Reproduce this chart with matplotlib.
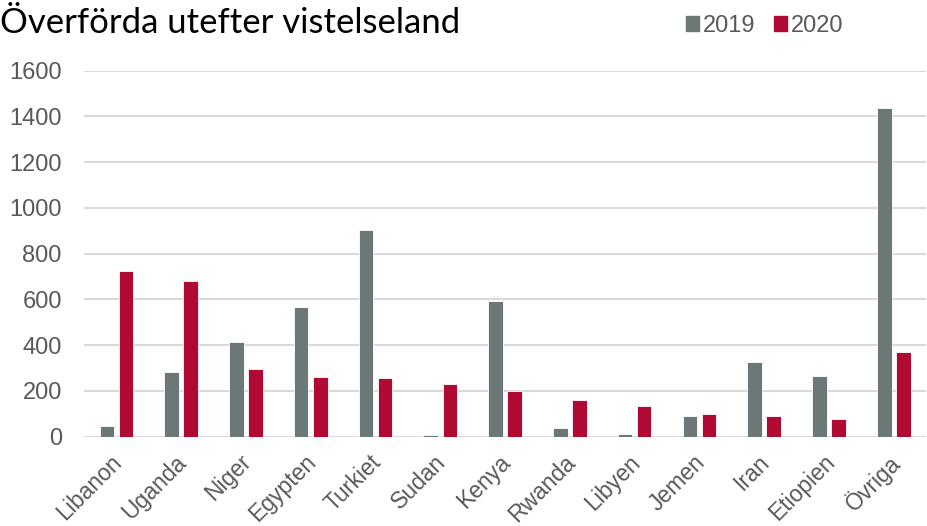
import numpy as np
import matplotlib.pyplot as plt
import matplotlib.transforms as mtransforms
from matplotlib.patches import Patch

countries = ["Libanon", "Uganda", "Niger", "Egypten", "Turkiet", "Sudan", "Kenya",
             "Rwanda", "Libyen", "Jemen", "Iran", "Etiopien", "Övriga"]
y2019 = [48, 281, 415, 565, 905, 7, 595, 38, 12, 89, 326, 265, 1437]
y2020 = [723, 680, 294, 262, 256, 229, 201, 159, 136, 98, 92, 76, 369]
yticks = [0, 200, 400, 600, 800, 1000, 1200, 1400, 1600]

grey = "#6b7877"
red = "#b00a32"
txt = "#595959"

plt.rcParams["font.family"] = ["Liberation Sans", "DejaVu Sans"]

fig = plt.figure(figsize=(9.28, 5.26), dpi=100)
ax = fig.add_axes([0.0905, 0.1698, 0.9075, 0.6958])

x = np.arange(len(countries))
w = 0.225
off = 0.147
ax.bar(x - off, y2019, w, color=grey, edgecolor="white", linewidth=0.6, zorder=3)
ax.bar(x + off, y2020, w, color=red, edgecolor="white", linewidth=0.6, zorder=3)

ax.set_xlim(-0.5, len(countries) - 0.5)
ax.set_ylim(0, 1600)
ax.set_yticks(yticks)
ax.set_yticklabels([str(v) for v in yticks], fontsize=17, color=txt)
ax.tick_params(axis="y", length=0, pad=16)
ax.tick_params(axis="x", length=0, pad=10)
ax.set_xticks(x)
ax.set_xticklabels(countries, rotation=45, ha="right", rotation_mode="anchor",
                   fontsize=16.5, color=txt)
# nudge the rotated labels a little to the left
shift = mtransforms.ScaledTranslation(-6 / 100, 0, fig.dpi_scale_trans)
for lbl in ax.get_xticklabels():
    lbl.set_transform(lbl.get_transform() + shift)

ax.grid(True, axis="y", color="#d9d9d9", linewidth=1.5, zorder=0)
for s in ax.spines.values():
    s.set_visible(False)

fig.text(0.0, 0.937, "Överförda utefter vistelseland", fontsize=25,
         family=["Lato", "DejaVu Sans"], color="black", va="baseline")

handles = [Patch(color=grey, label="2019"), Patch(color=red, label="2020")]
fig.legend(handles=handles, loc="center", bbox_to_anchor=(0.824, 0.951), ncol=2,
           frameon=False, fontsize=17, handlelength=0.55, handleheight=0.55,
           handletextpad=0.17, columnspacing=0.8, labelcolor=txt)

fig.savefig("out.png", dpi=100)
